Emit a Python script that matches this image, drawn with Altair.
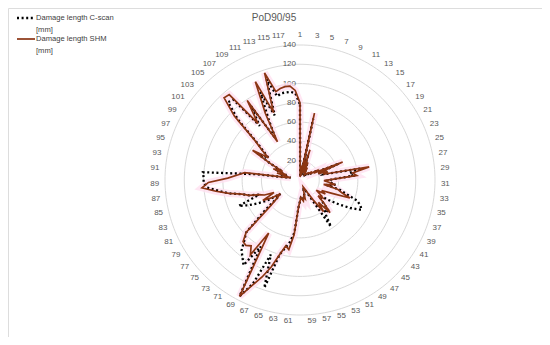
import altair as alt
import pandas as pd

N = 118
categories = list(range(1, N + 1))

cscan = [78, 3, 12, 6, 65, 5, 28, 10, 18, 8,
         12, 9, 8, 6, 9, 8, 10, 9, 13, 12,
         18, 18, 44, 20, 28, 25, 65, 52, 55, 35,
         28, 32, 37, 28, 42, 50, 63, 68, 71, 60,
         48, 36, 26, 28, 33, 45, 40, 45, 58, 20,
         12, 10, 10, 12, 18, 18, 20, 18, 18, 22,
         28, 55, 65, 72, 80, 118, 83, 118, 136, 80,
         106, 100, 95, 85, 78, 50, 30, 25, 40, 50,
         60, 69, 45, 55, 62, 75, 85, 97, 100, 100,
         101, 45, 15, 10, 22, 15, 28, 20, 35, 52,
         40, 48, 60, 90, 110, 108, 70, 92, 50, 70,
         100, 72, 110, 90, 92, 92, 92, 90]

shm = [80, 3, 15, 8, 71, 5, 33, 10, 20, 8,
       15, 10, 8, 6, 10, 8, 12, 10, 15, 12,
       20, 18, 48, 20, 30, 25, 73, 55, 59, 35,
       25, 30, 37, 25, 40, 45, 55, 35, 25, 30,
       20, 25, 30, 25, 35, 46, 30, 41, 25, 15,
       10, 8, 10, 12, 20, 18, 22, 20, 18, 22,
       28, 57, 73, 70, 80, 95, 108, 120, 136, 64,
       93, 85, 88, 87, 78, 40, 30, 25, 35, 44,
       30, 40, 45, 55, 62, 75, 88, 102, 95, 75,
       65, 58, 15, 10, 25, 15, 30, 20, 35, 58,
       40, 50, 62, 95, 116, 115, 73, 99, 46, 78,
       112, 75, 117, 95, 97, 98, 98, 93]

grid_values = [20, 40, 60, 80, 100, 120, 140]
series_names = ["Damage length C-scan [mm]", "Damage length SHM [mm]"]
title_text = "PoD90/95"

W, H = 534, 329
CX, CY = 292, 172
R_OUT = 135
K = R_OUT / 140

xs = alt.Scale(domain=[-CX / K, (W - CX) / K], range=[0, W], zero=False, nice=False)
ys = alt.Scale(domain=[-(H - CY) / K, CY / K], range=[H, 0], zero=False, nice=False)

rows = []
for name, vals in zip(series_names, [cscan, shm]):
    closed = vals + vals[:1]
    for i, v in enumerate(closed):
        rows.append({"series": name, "idx": i, "value": v})
df = pd.DataFrame(rows)

polar = alt.Chart(df).transform_calculate(
    ang=f"datum.idx*2*PI/{N}"
).transform_calculate(
    px="datum.value*sin(datum.ang)", py="datum.value*cos(datum.ang)"
)
enc = dict(
    x=alt.X("px:Q", scale=xs, axis=None),
    y=alt.Y("py:Q", scale=ys, axis=None),
    order="idx:Q",
)
halo = polar.transform_filter(alt.datum.series == series_names[1]).mark_line(
    color="#ffe0f0", strokeWidth=7, opacity=0.8
).encode(**enc)
cs_line = polar.transform_filter(alt.datum.series == series_names[0]).mark_line(
    color="#000000", strokeWidth=2.3, strokeDash=[2, 2.6]
).encode(**enc)
shm_line = polar.transform_filter(alt.datum.series == series_names[1]).mark_line(
    color="#8B3513", strokeWidth=1.7
).encode(**enc)

grid_df = pd.DataFrame([{"r": r, "s": s} for r in grid_values for s in range(0, 241)])
grid = alt.Chart(grid_df).transform_calculate(
    gx="datum.r*sin(datum.s*2*PI/240)", gy="datum.r*cos(datum.s*2*PI/240)"
).mark_line(color="#d9d9d9", strokeWidth=1).encode(
    x=alt.X("gx:Q", scale=xs, axis=None),
    y=alt.Y("gy:Q", scale=ys, axis=None),
    detail="r:N", order="s:Q",
)

tick_labels = alt.Chart(pd.DataFrame({"r": grid_values})).transform_calculate(
    zx="0", lab="toString(datum.r)"
).mark_text(align="right", baseline="middle", dx=-4, fontSize=8, color="#595959",
            font="Liberation Sans").encode(
    x=alt.X("zx:Q", scale=xs, axis=None),
    y=alt.Y("r:Q", scale=ys, axis=None),
    text="lab:N",
)

cat_df = pd.DataFrame({"cat": [c for c in categories if c % 2 == 1]})
cat_labels = alt.Chart(cat_df).transform_calculate(
    lab="toString(datum.cat)",
    a=f"(datum.cat-1)*2*PI/{N}",
).transform_calculate(
    hw="length(datum.lab)*2.2",
).transform_calculate(
    sx="abs(sin(datum.a)) < 0.01 ? 0 : (sin(datum.a) > 0 ? 1 : -1)",
    vy="cos(datum.a) > 0 ? 4*cos(datum.a) : 0",
).transform_calculate(
    lx=f"(141*sin(datum.a) + datum.sx*datum.hw)/{K}",
    ly=f"(141*cos(datum.a) + datum.vy)/{K}",
).mark_text(align="center", baseline="middle", fontSize=8, color="#595959",
            font="Liberation Sans").encode(
    x=alt.X("lx:Q", scale=xs, axis=None),
    y=alt.Y("ly:Q", scale=ys, axis=None),
    text="lab:N",
)

title = alt.Chart(pd.DataFrame({"t": [title_text]})).mark_text(
    align="center", baseline="middle", fontSize=10, color="#595959", font="Liberation Sans"
).encode(x=alt.value(266), y=alt.value(10), text="t:N")

leg_df = pd.DataFrame({"name": series_names})
leg_cs_mark = alt.Chart(leg_df.iloc[[0]]).mark_rule(
    color="#000000", strokeWidth=2.3, strokeDash=[2, 2.6]
).encode(x=alt.value(9), x2=alt.value(26), y=alt.value(10))
leg_shm_mark = alt.Chart(leg_df.iloc[[1]]).mark_rule(
    color="#8B3513", strokeWidth=1.7
).encode(x=alt.value(9), x2=alt.value(27), y=alt.value(31))
leg_cs_text = alt.Chart(leg_df.iloc[[0]]).transform_calculate(
    t="replace(datum.name, ' [mm]', '\\n[mm]')"
).mark_text(align="left", baseline="middle", fontSize=7.6, color="#404040",
            font="Liberation Sans", lineBreak="\n", lineHeight=12).encode(
    x=alt.value(28), y=alt.value(10), text="t:N")
leg_shm_text = alt.Chart(leg_df.iloc[[1]]).transform_calculate(
    t="replace(datum.name, ' [mm]', '\\n[mm]')"
).mark_text(align="left", baseline="middle", fontSize=7.6, color="#404040",
            font="Liberation Sans", lineBreak="\n", lineHeight=12).encode(
    x=alt.value(28), y=alt.value(31), text="t:N")

chart = alt.layer(
    grid, tick_labels, cat_labels, halo, cs_line, shm_line, title,
    leg_cs_mark, leg_shm_mark, leg_cs_text, leg_shm_text
).properties(
    width=W, height=H, padding=0, autosize=alt.AutoSizeParams(type="none")
).configure_view(stroke="#8c8c8c", strokeWidth=1.5).configure(background="white")

chart.save("out.html", embed_options={"renderer": "svg", "actions": False})
